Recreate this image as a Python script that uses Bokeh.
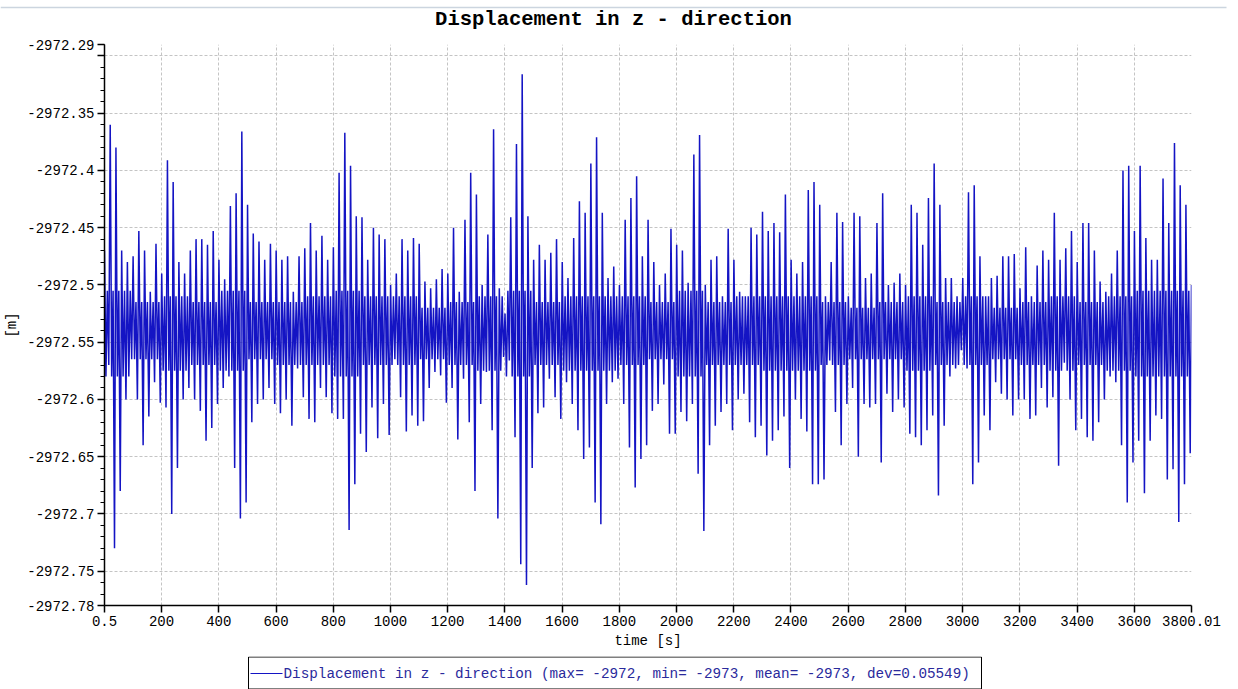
import numpy as np
from bokeh.plotting import figure
from bokeh.layouts import column
from bokeh.models import FixedTicker, Range1d
from bokeh.core.properties import value
from bokeh.embed import file_html
from bokeh.resources import INLINE

# Upper turning points of the large swings (one per 20 s slot, slot start t = 0.5 s)
upper = [
    -2972.47, -2972.36, -2972.38, -2972.47, -2972.48, -2972.475, -2972.453, -2972.47, -2972.506, -2972.464,
    -2972.49, -2972.391, -2972.41, -2972.48, -2972.49, -2972.47, -2972.46, -2972.46, -2972.465, -2972.453,
    -2972.478, -2972.495, -2972.431, -2972.42, -2972.366, -2972.43, -2972.455, -2972.462, -2972.478, -2972.464,
    -2972.47, -2972.478, -2972.475, -2972.506, -2972.475, -2972.468, -2972.446, -2972.47, -2972.457, -2972.478,
    -2972.467, -2972.402, -2972.367, -2972.396, -2972.44, -2972.441, -2972.478, -2972.45, -2972.456, -2972.46,
    -2972.50, -2972.49, -2972.46, -2972.47, -2972.459, -2972.464, -2972.497, -2972.503, -2972.495, -2972.486,
    -2972.49, -2972.45, -2972.506, -2972.443, -2972.402, -2972.421, -2972.50, -2972.456, -2972.364, -2972.503,
    -2972.525, -2972.441, -2972.377, -2972.316, -2972.44, -2972.478, -2972.465, -2972.478, -2972.472, -2972.46,
    -2972.48, -2972.494, -2972.459, -2972.427, -2972.437, -2972.394, -2972.371, -2972.437, -2972.494, -2972.484,
    -2972.50, -2972.443, -2972.424, -2972.405, -2972.475, -2972.443, -2972.48, -2972.50, -2972.49, -2972.451,
    -2972.465, -2972.47, -2972.498, -2972.386, -2972.369, -2972.50, -2972.478, -2972.475, -2972.51, -2972.451,
    -2972.478, -2972.506, -2972.51, -2972.45, -2972.456, -2972.436, -2972.453, -2972.446, -2972.454, -2972.421,
    -2972.478, -2972.49, -2972.48, -2972.417, -2972.41, -2972.43, -2972.51, -2972.48, -2972.437, -2972.445,
    -2972.51, -2972.437, -2972.44, -2972.494, -2972.49, -2972.446, -2972.42, -2972.50, -2972.498, -2972.49,
    -2972.50, -2972.43, -2972.437, -2972.465, -2972.424, -2972.394, -2972.43, -2972.494, -2972.494, -2972.51,
    -2972.494, -2972.419, -2972.413, -2972.475, -2972.51, -2972.494, -2972.492, -2972.475, -2972.475, -2972.473,
    -2972.503, -2972.467, -2972.51, -2972.483, -2972.47, -2972.478, -2972.437, -2972.478, -2972.468, -2972.453,
    -2972.48, -2972.446, -2972.446, -2972.47, -2972.497, -2972.506, -2972.49, -2972.47, -2972.40, -2972.396,
    -2972.453, -2972.396, -2972.459, -2972.478, -2972.478, -2972.407, -2972.446, -2972.376, -2972.413, -2972.43,
]

# Lower turning points of the large swings (one per 20 s slot)
lower = [
    -2972.57, -2972.73, -2972.68, -2972.60, -2972.565, -2972.60, -2972.64, -2972.615, -2972.585, -2972.603,
    -2972.607, -2972.70, -2972.66, -2972.60, -2972.59, -2972.60, -2972.61, -2972.636, -2972.625, -2972.604,
    -2972.59, -2972.58, -2972.66, -2972.704, -2972.69, -2972.62, -2972.604, -2972.60, -2972.59, -2972.604,
    -2972.612, -2972.60, -2972.623, -2972.573, -2972.598, -2972.617, -2972.62, -2972.59, -2972.598, -2972.612,
    -2972.617, -2972.617, -2972.714, -2972.674, -2972.63, -2972.646, -2972.607, -2972.634, -2972.604, -2972.631,
    -2972.565, -2972.598, -2972.628, -2972.614, -2972.623, -2972.619, -2972.59, -2972.576, -2972.579, -2972.603,
    -2972.59, -2972.635, -2972.582, -2972.62, -2972.68, -2972.604, -2972.576, -2972.627, -2972.704, -2972.563,
    -2972.566, -2972.633, -2972.744, -2972.762, -2972.66, -2972.612, -2972.607, -2972.582, -2972.598, -2972.617,
    -2972.585, -2972.604, -2972.627, -2972.652, -2972.642, -2972.69, -2972.709, -2972.604, -2972.585, -2972.582,
    -2972.604, -2972.642, -2972.677, -2972.652, -2972.64, -2972.61, -2972.604, -2972.587, -2972.63, -2972.63,
    -2972.611, -2972.619, -2972.604, -2972.665, -2972.715, -2972.64, -2972.623, -2972.611, -2972.604, -2972.627,
    -2972.60, -2972.595, -2972.62, -2972.633, -2972.623, -2972.649, -2972.636, -2972.627, -2972.615, -2972.66,
    -2972.60, -2972.617, -2972.628, -2972.674, -2972.674, -2972.67, -2972.566, -2972.611, -2972.64, -2972.604,
    -2972.59, -2972.65, -2972.604, -2972.607, -2972.604, -2972.655, -2972.595, -2972.611, -2972.60, -2972.607,
    -2972.63, -2972.633, -2972.64, -2972.627, -2972.614, -2972.684, -2972.623, -2972.58, -2972.573, -2972.557,
    -2972.573, -2972.674, -2972.655, -2972.614, -2972.627, -2972.585, -2972.595, -2972.60, -2972.614, -2972.60,
    -2972.60, -2972.617, -2972.614, -2972.59, -2972.607, -2972.598, -2972.658, -2972.568, -2972.60, -2972.627,
    -2972.617, -2972.633, -2972.636, -2972.62, -2972.60, -2972.58, -2972.585, -2972.64, -2972.69, -2972.655,
    -2972.636, -2972.682, -2972.636, -2972.614, -2972.617, -2972.67, -2972.661, -2972.707, -2972.674, -2972.647,
]

# Limits of the dense core band (small oscillations), one value per 100 s
core_hi = [
    -2972.505, -2972.515, -2972.51, -2972.515, -2972.505, -2972.515, -2972.515, -2972.51, -2972.505, -2972.51,
    -2972.51, -2972.52, -2972.515, -2972.51, -2972.505, -2972.515, -2972.51, -2972.51, -2972.51, -2972.515,
    -2972.505, -2972.515, -2972.51, -2972.51, -2972.51, -2972.515, -2972.52, -2972.515, -2972.51, -2972.515,
    -2972.51, -2972.52, -2972.515, -2972.51, -2972.515, -2972.51, -2972.505, -2972.505,
]
core_lo = [
    -2972.58, -2972.565, -2972.575, -2972.57, -2972.575, -2972.565, -2972.57, -2972.57, -2972.58, -2972.57,
    -2972.57, -2972.565, -2972.57, -2972.575, -2972.58, -2972.57, -2972.575, -2972.575, -2972.57, -2972.565,
    -2972.58, -2972.57, -2972.57, -2972.575, -2972.575, -2972.57, -2972.565, -2972.565, -2972.575, -2972.57,
    -2972.57, -2972.565, -2972.57, -2972.575, -2972.57, -2972.575, -2972.58, -2972.58,
]

t_start = 0.5
slot = 20.0
core_seg = 100.0
t_end = 3800.01
v_end = -2972.50

x_ticks = [0.5, 200, 400, 600, 800, 1000, 1200, 1400, 1600, 1800, 2000, 2200, 2400,
           2600, 2800, 3000, 3200, 3400, 3600, 3800.01]
x_labels = ["0.5", "200", "400", "600", "800", "1000", "1200", "1400", "1600", "1800", "2000",
            "2200", "2400", "2600", "2800", "3000", "3200", "3400", "3600", "3800.01"]
y_ticks = [-2972.78, -2972.75, -2972.7, -2972.65, -2972.6, -2972.55, -2972.5, -2972.45,
           -2972.4, -2972.35, -2972.3, -2972.29]
y_labels = ["-2972.78", "-2972.75", "-2972.7", "-2972.65", "-2972.6", "-2972.55", "-2972.5",
            "-2972.45", "-2972.4", "-2972.35", "", "-2972.29"]

title_text = "Displacement in z - direction"
legend_text = "Displacement in z - direction (max= -2972, min= -2973, mean= -2973, dev=0.05549)"

# ---- assemble the series: per slot  high -> core low -> core high -> low ----
n = len(upper)
ts, vs = [], []
for k in range(n):
    t0 = t_start + slot * k
    j = min(int(t0 // core_seg), len(core_hi) - 1)
    ts += [t0, t0 + slot * 0.25, t0 + slot * 0.5, t0 + slot * 0.75]
    vs += [upper[k], core_lo[j], core_hi[j], lower[k]]
ts.append(t_end)
vs.append(v_end)
t = np.array(ts)
v = np.array(vs)

FONT = "Liberation Mono"
LINE = "#1414c4"
W = 1238


def strip(height):
    f = figure(width=W, height=height, output_backend="svg", toolbar_location=None,
               x_range=Range1d(0, W), y_range=Range1d(0, height),
               min_border_left=0, min_border_right=0, min_border_top=0, min_border_bottom=0,
               x_axis_type=None, y_axis_type=None, frame_align=False)
    f.outline_line_color = None
    f.xgrid.visible = False
    f.ygrid.visible = False
    f.background_fill_color = "white"
    f.border_fill_color = "white"
    return f


# ---- title strip ----
top = strip(36)
top.segment(x0=[0], y0=[29], x1=[1226], y1=[29], line_color="#ccd5df", line_width=1.5)
top.text(x=[613], y=[17.5], text=[title_text], text_align="center", text_baseline="middle",
         text_font=value(FONT), text_font_size="20.5px", text_font_style="bold", text_color="black")

# ---- main chart ----
p = figure(width=W, height=620, output_backend="svg", toolbar_location=None,
           x_range=Range1d(0.5, 3800.01), y_range=Range1d(-2972.78, -2972.29),
           min_border_left=104, min_border_right=47, min_border_top=8, min_border_bottom=51,
           frame_align=False)
p.background_fill_color = "white"
p.border_fill_color = "white"
p.outline_line_color = None

r = p.line(t, v, line_color=LINE, line_width=1.5)

p.xaxis.ticker = FixedTicker(ticks=x_ticks)
p.xaxis.major_label_overrides = {k: s for k, s in zip(x_ticks, x_labels)}
minor_y = [round(-2972.78 + 0.01 * i, 2) for i in range(50)]
p.yaxis.ticker = FixedTicker(ticks=y_ticks, minor_ticks=minor_y)
p.yaxis.major_label_overrides = {k: s for k, s in zip(y_ticks, y_labels)}

for ax in (p.xaxis[0], p.yaxis[0]):
    ax.axis_line_color = "black"
    ax.axis_line_width = 1.5
    ax.major_tick_line_color = "black"
    ax.major_tick_line_width = 1.5
    ax.major_tick_out = 7
    ax.major_tick_in = 0
    ax.major_label_text_font = FONT
    ax.major_label_text_font_size = "14px"
    ax.major_label_text_color = "black"
    ax.major_label_standoff = 3
    ax.axis_label_text_font = FONT
    ax.axis_label_text_font_size = "14px"
    ax.axis_label_text_font_style = "normal"
    ax.axis_label_text_color = "black"

p.xaxis.minor_tick_line_color = None
p.yaxis.minor_tick_line_color = "black"
p.yaxis.minor_tick_out = 4
p.yaxis.minor_tick_in = 0
p.xaxis.axis_label = "time [s]"
p.xaxis.axis_label_standoff = 4
p.yaxis.axis_label = "[m]"
p.yaxis.axis_label_standoff = 4

p.xgrid.ticker = FixedTicker(ticks=x_ticks)
p.ygrid.ticker = FixedTicker(ticks=y_ticks)
for g in (p.xgrid[0], p.ygrid[0]):
    g.grid_line_color = "#c4c4c4"
    g.grid_line_dash = "3 2"
    g.grid_line_width = 1

# ---- legend strip ----
leg = strip(33)
leg.quad(left=[248], right=[981], bottom=[0.5], top=[32.5], fill_color="white",
         line_color="black", line_width=1)
leg.segment(x0=[250], y0=[16], x1=[282], y1=[16], line_color=LINE, line_width=1.2)
leg.text(x=[283], y=[16], text=[legend_text], text_align="left", text_baseline="middle",
         text_font=value(FONT), text_font_size="14.3px", text_color="#2a2a9c")

layout = column(top, p, leg, spacing=0)
open("out.html", "w").write(file_html(layout, INLINE))
